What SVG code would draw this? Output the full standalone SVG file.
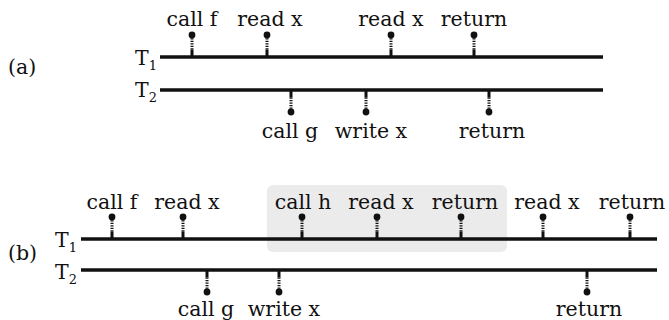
<svg xmlns="http://www.w3.org/2000/svg" xmlns:xlink="http://www.w3.org/1999/xlink" width="669" height="320" viewBox="0 0 669 320">
<style>
text{font-family:"DejaVu Serif","Liberation Serif",serif;font-size:20.5px;fill:#111}
.lbl{text-anchor:middle}
.sub{font-size:13px}
.tl{stroke:#111;stroke-width:3.6;fill:none}
.stem{stroke:#111;stroke-width:3}
.dash{stroke:#111;stroke-width:3;stroke-dasharray:1.3 1.2}
</style>
<defs>
<g id="up">
<line class="stem" x1="0" y1="0" x2="0" y2="-7.5"/>
<line class="dash" x1="0" y1="-7.5" x2="0" y2="-19.5"/>
<circle cx="0" cy="-22" r="3.4" fill="#111"/>
</g>
<g id="down">
<line class="stem" x1="0" y1="0" x2="0" y2="7.5"/>
<line class="dash" x1="0" y1="7.5" x2="0" y2="19.5"/>
<circle cx="0" cy="22" r="3.4" fill="#111"/>
</g>
</defs>
<rect id="highlight" x="267" y="185" width="240" height="67" rx="6" fill="#ebebeb"/>
<g id="labels">
<text x="8" y="74">(a)</text>
<text x="8" y="260">(b)</text>
<text x="135" y="65">T<tspan class="sub" dy="5">1</tspan></text>
<text x="135" y="97">T<tspan class="sub" dy="5">2</tspan></text>
<text x="55" y="247">T<tspan class="sub" dy="5">1</tspan></text>
<text x="55" y="279">T<tspan class="sub" dy="5">2</tspan></text>
</g>
<g id="connectors">
<line class="tl" x1="160" y1="57" x2="603" y2="57"/>
<line class="tl" x1="160" y1="90" x2="603" y2="90"/>
<line class="tl" x1="81" y1="239" x2="657" y2="239"/>
<line class="tl" x1="81" y1="270" x2="657" y2="270"/>
</g>
<g id="a-t1-callf"><use xlink:href="#up" x="192" y="57"/><text class="lbl" x="192" y="26">call f</text></g>
<g id="a-t1-readx1"><use xlink:href="#up" x="267" y="57"/><text class="lbl" x="270" y="26">read x</text></g>
<g id="a-t1-readx2"><use xlink:href="#up" x="391" y="57"/><text class="lbl" x="391" y="26">read x</text></g>
<g id="a-t1-return"><use xlink:href="#up" x="474" y="57"/><text class="lbl" x="474" y="26">return</text></g>
<g id="a-t2-callg"><use xlink:href="#down" x="291" y="90"/><text class="lbl" x="290" y="138">call g</text></g>
<g id="a-t2-writex"><use xlink:href="#down" x="366" y="90"/><text class="lbl" x="371" y="138">write x</text></g>
<g id="a-t2-return"><use xlink:href="#down" x="489" y="90"/><text class="lbl" x="492" y="138">return</text></g>
<g id="b-t1-callf"><use xlink:href="#up" x="112" y="239"/><text class="lbl" x="112" y="209">call f</text></g>
<g id="b-t1-readx1"><use xlink:href="#up" x="183" y="239"/><text class="lbl" x="187" y="209">read x</text></g>
<g id="b-t1-callh"><use xlink:href="#up" x="302" y="239"/><text class="lbl" x="303" y="209">call h</text></g>
<g id="b-t1-readx2"><use xlink:href="#up" x="377" y="239"/><text class="lbl" x="381" y="209">read x</text></g>
<g id="b-t1-return1"><use xlink:href="#up" x="461" y="239"/><text class="lbl" x="465" y="209">return</text></g>
<g id="b-t1-readx3"><use xlink:href="#up" x="543" y="239"/><text class="lbl" x="547" y="209">read x</text></g>
<g id="b-t1-return2"><use xlink:href="#up" x="630" y="239"/><text class="lbl" x="632" y="209">return</text></g>
<g id="b-t2-callg"><use xlink:href="#down" x="207" y="270"/><text class="lbl" x="206" y="316">call g</text></g>
<g id="b-t2-writex"><use xlink:href="#down" x="279" y="270"/><text class="lbl" x="284" y="316">write x</text></g>
<g id="b-t2-return"><use xlink:href="#down" x="587" y="270"/><text class="lbl" x="589" y="316">return</text></g>
</svg>
